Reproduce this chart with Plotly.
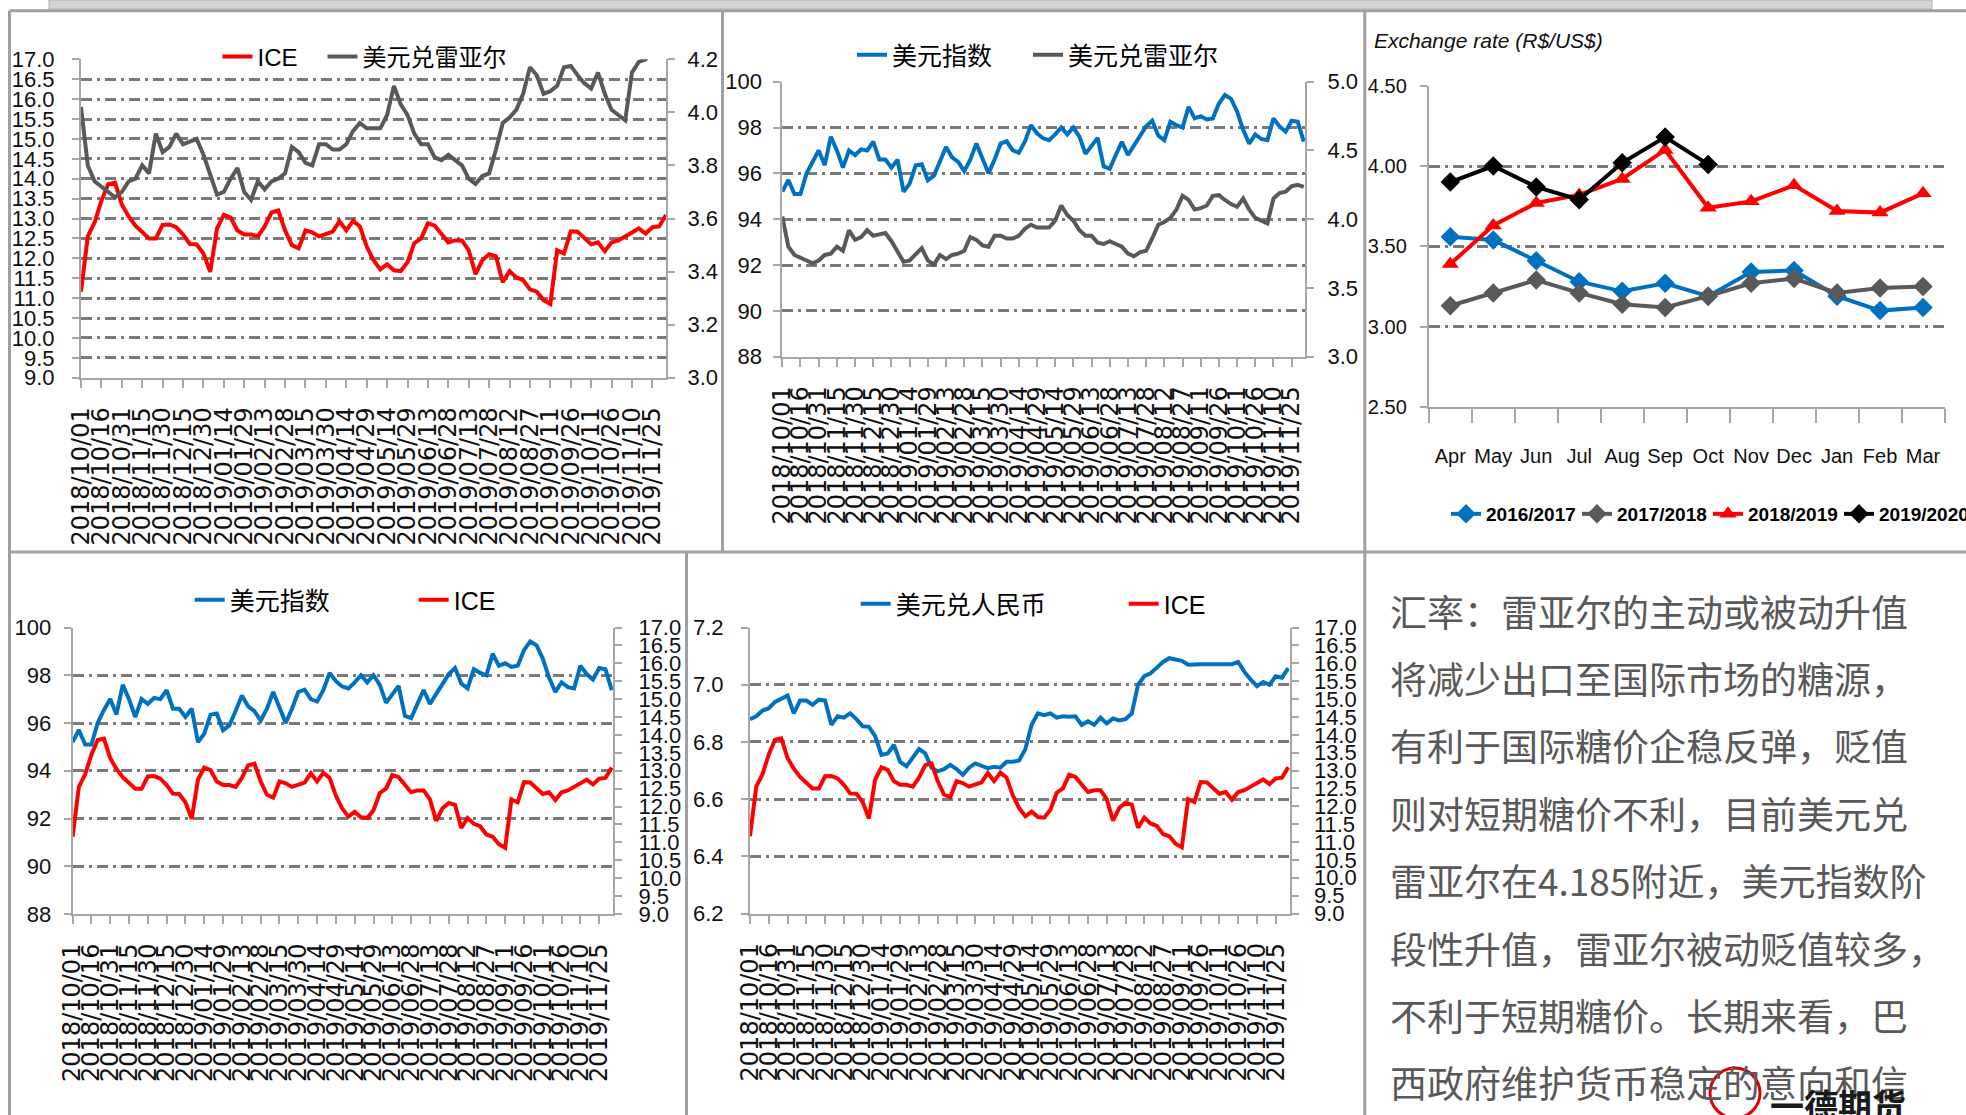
import plotly.graph_objects as go
import pandas as pd

W, H = 1966, 1115

# ---------------- data ----------------
dates = pd.date_range("2018-10-01", periods=87, freq="5D")

ice = [11.16, 12.55, 12.9, 13.45, 13.86, 13.9, 13.35, 13.05, 12.82, 12.65,
       12.5, 12.5, 12.84, 12.85, 12.78, 12.6, 12.36, 12.35, 12.12, 11.66,
       12.75, 13.09, 13.02, 12.7, 12.6, 12.6, 12.55, 12.8, 13.15, 13.2,
       12.7, 12.33, 12.25, 12.7, 12.65, 12.55, 12.6, 12.67, 12.93, 12.7,
       12.94, 12.8, 12.3, 11.95, 11.72, 11.85, 11.7, 11.68, 11.9, 12.38,
       12.5, 12.88, 12.82, 12.6, 12.4, 12.45, 12.45, 12.2, 11.6, 11.95,
       12.1, 12.05, 11.4, 11.68, 11.52, 11.45, 11.22, 11.16, 10.95, 10.85,
       12.2, 12.12, 12.68, 12.67, 12.5, 12.35, 12.4, 12.18, 12.4, 12.45,
       12.55, 12.65, 12.75, 12.62, 12.78, 12.8, 13.09]

brl = [4.02, 3.80, 3.74, 3.72, 3.70, 3.68, 3.70, 3.74, 3.75, 3.80,
       3.77, 3.92, 3.85, 3.87, 3.92, 3.88, 3.89, 3.90, 3.84, 3.76,
       3.69, 3.70, 3.75, 3.79, 3.70, 3.67, 3.74, 3.71, 3.74, 3.75,
       3.77, 3.87, 3.85, 3.81, 3.80, 3.88, 3.88, 3.86, 3.86, 3.88,
       3.93, 3.96, 3.94, 3.94, 3.94, 3.99, 4.10, 4.03, 3.99, 3.92,
       3.88, 3.88, 3.83, 3.82, 3.84, 3.82, 3.80, 3.75, 3.73, 3.76,
       3.77, 3.86, 3.96, 3.98, 4.01, 4.07, 4.17, 4.14, 4.07, 4.08,
       4.10, 4.17, 4.175, 4.14, 4.11, 4.09, 4.15, 4.07, 4.01, 3.99,
       3.97, 4.15, 4.19, 4.20, 4.24, 4.25, 4.235]

dxy = [95.2, 95.71, 95.1, 95.1, 96.0, 96.55, 97.0, 96.36, 97.6, 97.0,
       96.25, 97.0, 96.8, 97.05, 97.0, 97.38, 96.6, 96.6, 96.25, 96.6,
       95.2, 95.55, 96.35, 96.4, 95.7, 95.9, 96.5, 97.15, 96.7, 96.5,
       96.1, 96.6, 97.3, 96.7, 96.0, 96.6, 97.3, 97.4, 97.0, 96.9,
       97.38, 98.1, 97.75, 97.53, 97.45, 97.7, 98.0, 97.7, 98.0, 97.6,
       96.85, 97.2, 97.55, 96.3, 96.2, 96.8, 97.38, 96.8, 97.2, 97.65,
       98.05, 98.3, 97.65, 97.45, 98.25, 98.1, 98.0, 98.9, 98.4, 98.5,
       98.35, 98.4, 99.05, 99.42, 99.25, 98.7, 97.9, 97.3, 97.7, 97.5,
       97.45, 98.4, 98.05, 97.82, 98.3, 98.25, 97.38]

cny = [6.88, 6.89, 6.91, 6.918, 6.94, 6.95, 6.962, 6.90, 6.945, 6.945,
       6.93, 6.948, 6.945, 6.86, 6.89, 6.885, 6.90, 6.88, 6.855, 6.853,
       6.82, 6.755, 6.76, 6.79, 6.73, 6.715, 6.748, 6.775, 6.76, 6.71,
       6.697, 6.705, 6.72, 6.705, 6.685, 6.71, 6.725, 6.715, 6.708, 6.713,
       6.71, 6.731, 6.731, 6.735, 6.775, 6.86, 6.90, 6.894, 6.90, 6.885,
       6.89, 6.888, 6.89, 6.86, 6.872, 6.86, 6.885, 6.865, 6.882, 6.875,
       6.88, 6.90, 7.0, 7.03, 7.04, 7.06, 7.08, 7.093, 7.09, 7.084,
       7.07, 7.072, 7.072, 7.072, 7.072, 7.072, 7.07, 7.072, 7.08, 7.045,
       7.018, 6.995, 7.01, 7.0, 7.03, 7.025, 7.058]

months = ["Apr", "May", "Jun", "Jul", "Aug", "Sep", "Oct", "Nov", "Dec", "Jan", "Feb", "Mar"]
fx_1617 = [3.56, 3.54, 3.41, 3.28, 3.22, 3.27, 3.19, 3.34, 3.35, 3.19, 3.10, 3.12]
fx_1718 = [3.13, 3.21, 3.29, 3.21, 3.14, 3.12, 3.19, 3.27, 3.30, 3.21, 3.24, 3.25]
fx_1819 = [3.39, 3.63, 3.77, 3.82, 3.92, 4.10, 3.74, 3.78, 3.88, 3.72, 3.71, 3.83]
fx_1920 = [3.90, 4.00, 3.87, 3.79, 4.02, 4.18, 4.01]

text_lines = [
    "汇率：雷亚尔的主动或被动升值",
    "将减少出口至国际市场的糖源，",
    "有利于国际糖价企稳反弹，贬值",
    "则对短期糖价不利，目前美元兑",
    "雷亚尔在4.185附近，美元指数阶",
    "段性升值，雷亚尔被动贬值较多，",
    "不利于短期糖价。长期来看，巴",
    "西政府维护货币稳定的意向和信",
]

# ---------------- style ----------------
RED, GRAY, BLUE, BLACK = "#FF0000", "#595959", "#0070C0", "#000000"
SANS = "Liberation Sans, Noto Sans CJK SC, sans-serif"
AX = "#A6A6A6"
GRID = "#7A7A7A"
DASH = "11px,5px,3px,5px"


def fx(px):
    return px / W


def fy(py):
    return 1 - py / H


def date_x(domain, anchor, end):
    return dict(domain=domain, anchor=anchor, type="date",
                range=["2018-10-01", end], tick0="2018-10-01",
                dtick=15 * 86400000, tickformat="%Y/%m/%d", tickangle=-90,
                tickfont=dict(family="DejaVu Sans", size=24, color="#111"),
                showline=True, linecolor=AX, linewidth=2,
                ticks="outside", ticklen=8, tickcolor=AX, tickwidth=2,
                showgrid=False, zeroline=False, ticklabelstandoff=10)


def left_y(domain, anchor, rng, dtick, fmt, standoff, size=22):
    return dict(domain=domain, anchor=anchor, range=rng, dtick=dtick, tickformat=fmt,
                tickfont=dict(family=SANS, size=size, color="#111"),
                showline=True, linecolor=AX, linewidth=2,
                ticks="outside", ticklen=7, tickcolor=AX, tickwidth=2,
                showgrid=True, gridcolor=GRID, gridwidth=3, griddash=DASH,
                zeroline=False, ticklabelstandoff=standoff)


def right_y(over, anchor, rng, dtick, fmt, standoff):
    return dict(overlaying=over, anchor=anchor, side="right", range=rng, dtick=dtick,
                tickformat=fmt, tickfont=dict(family=SANS, size=22, color="#111"),
                showline=True, linecolor=AX, linewidth=2,
                ticks="outside", ticklen=7, tickcolor=AX, tickwidth=2,
                showgrid=False, zeroline=False, ticklabelstandoff=standoff)


def line(x, y, name, color, xa, ya, leg, lw):
    return go.Scatter(x=x, y=y, name=name, mode="lines", legendwidth=lw,
                      line=dict(color=color, width=4), xaxis=xa, yaxis=ya, legend=leg)


fig = go.Figure()
# panel 1
fig.add_trace(line(dates, ice, "ICE", RED, "x", "y", "legend", 60))
fig.add_trace(line(dates, brl, "美元兑雷亚尔", GRAY, "x", "y2", "legend", 160))
# panel 2
fig.add_trace(line(dates, dxy, "美元指数", BLUE, "x2", "y3", "legend2", 131))
fig.add_trace(line(dates, brl, "美元兑雷亚尔", GRAY, "x2", "y4", "legend2", 160))
# panel 3
for nm, vals, col, sym, lw in [("2016/2017", fx_1617, BLUE, "diamond", 86),
                               ("2017/2018", fx_1718, GRAY, "diamond", 86),
                               ("2018/2019", fx_1819, RED, "triangle-up", 86),
                               ("2019/2020", fx_1920, BLACK, "diamond", 100)]:
    fig.add_trace(go.Scatter(x=months[:len(vals)], y=vals, name=nm, mode="lines+markers",
                             line=dict(color=col, width=4), legendwidth=lw,
                             marker=dict(symbol=sym, size=15, color=col),
                             xaxis="x3", yaxis="y5", legend="legend3"))
# panel 4
fig.add_trace(line(dates, dxy, "美元指数", BLUE, "x4", "y6", "legend4", 179))
fig.add_trace(line(dates, ice, "ICE", RED, "x4", "y7", "legend4", 60))
# panel 5
fig.add_trace(line(dates, cny, "美元兑人民币", BLUE, "x5", "y8", "legend5", 223))
fig.add_trace(line(dates, ice, "ICE", RED, "x5", "y9", "legend5", 60))


def leg(x, y, size=25, bold=False):
    return dict(x=fx(x), y=fy(y), xanchor="left", yanchor="middle", orientation="h",
                font=dict(family=SANS, size=size, color="#000",
                          weight="bold" if bold else "normal"),
                bgcolor="rgba(0,0,0,0)", itemwidth=30, traceorder="normal")


layout = dict(
    width=W, height=H, margin=dict(l=0, r=0, t=0, b=0, pad=0, autoexpand=False),
    paper_bgcolor="white", plot_bgcolor="rgba(0,0,0,0)",
    xaxis=date_x([fx(81), fx(666)], "y", "2019-12-05"),
    yaxis=left_y([fy(377.7), fy(59.3)], "x", [9, 17], 0.5, ".1f", 13),
    yaxis2=right_y("y", "x", [3.0, 4.2], 0.2, ".1f", 8),
    xaxis2=date_x([fx(782.3), fx(1305)], "y3", "2019-12-06"),
    yaxis3=left_y([fy(356.7), fy(81.7)], "x2", [88, 100], 2, "d", 7),
    yaxis4=right_y("y3", "x2", [3.0, 5.0], 0.5, ".1f", 9),
    xaxis3=dict(domain=[fx(1428.8), fx(1944.5)], anchor="y5", type="category",
                categoryorder="array", categoryarray=months, range=[-0.5, 11.5],
                tickson="boundaries", ticks="outside", ticklen=14, tickcolor=AX, tickwidth=2,
                showline=True, linecolor=AX, linewidth=2, showgrid=False, tickangle=0,
                tickfont=dict(family=SANS, size=20, color="#111"), ticklabelstandoff=30),
    yaxis5=left_y([fy(407), fy(85.7)], "x3", [2.5, 4.5], 0.5, ".2f", 9, size=20),
    xaxis4=date_x([fx(72.6), fx(613)], "y6", "2019-12-06"),
    yaxis6=left_y([fy(914), fy(627.5)], "x4", [88, 100], 2, "d", 8),
    yaxis7=right_y("y6", "x4", [9, 17], 0.5, ".1f", 12),
    xaxis5=date_x([fx(750), fx(1289.5)], "y8", "2019-12-06"),
    yaxis8=left_y([fy(913.5), fy(627.6)], "x5", [6.2, 7.2], 0.2, ".1f", 13),
    yaxis9=right_y("y8", "x5", [9, 17], 0.5, ".1f", 11),
    legend=leg(217.5, 57, 24),
    legend2=leg(852, 55, 25),
    legend3=leg(1446, 514, 19, True),
    legend4=leg(189.7, 600, 25),
    legend5=leg(855.7, 604, 25),
    showlegend=True,
)
fig.update_layout(**layout)

# ---------- frame / decoration ----------
shapes = []
BORDER = dict(color="#A0A0A0", width=3)


def hline(y, x0, x1):
    shapes.append(dict(type="line", xref="paper", yref="paper", x0=fx(x0), x1=fx(x1),
                       y0=fy(y), y1=fy(y), line=BORDER, layer="below"))


def vline(x, y0, y1):
    shapes.append(dict(type="line", xref="paper", yref="paper", x0=fx(x), x1=fx(x),
                       y0=fy(y0), y1=fy(y1), line=BORDER, layer="below"))


# top grey strip
shapes.append(dict(type="rect", xref="paper", yref="paper", x0=fx(49), x1=fx(1932),
                   y0=fy(9), y1=fy(0), fillcolor="#D4D4D4", line=dict(color="#B0B0B0", width=1),
                   layer="below"))
hline(10.7, 9.5, 1966)
hline(552, 9.5, 1966)
vline(9.5, 10.7, 1115)
vline(722.5, 10.7, 552)
vline(1364.8, 10.7, 1115)
vline(686.5, 552, 1115)
# logo ring
shapes.append(dict(type="circle", xref="paper", yref="paper", x0=fx(1710), x1=fx(1760),
                   y0=fy(1118), y1=fy(1068), line=dict(color="#E00000", width=3)))
fig.update_layout(shapes=shapes)

ann = []
ann.append(dict(text="<i>Exchange rate (R$/US$)</i>", x=fx(1372), y=fy(41), xref="paper",
                yref="paper", xanchor="left", yanchor="middle", showarrow=False,
                font=dict(family=SANS, size=21, color="#111")))
for i, t in enumerate(text_lines):
    ann.append(dict(text=t, x=fx(1388), y=fy(610.5 + 67.4 * i), xref="paper", yref="paper",
                    xanchor="left", yanchor="middle", showarrow=False,
                    font=dict(family="Noto Sans CJK SC", size=37, color="#595959")))
ann.append(dict(text="<b>一德期货</b>", x=fx(1768), y=fy(1104), xref="paper", yref="paper",
                xanchor="left", yanchor="middle", showarrow=False,
                font=dict(family="Noto Sans CJK SC", size=34, color="#1a1a1a")))
fig.update_layout(annotations=ann)

fig.write_html("out.html")
